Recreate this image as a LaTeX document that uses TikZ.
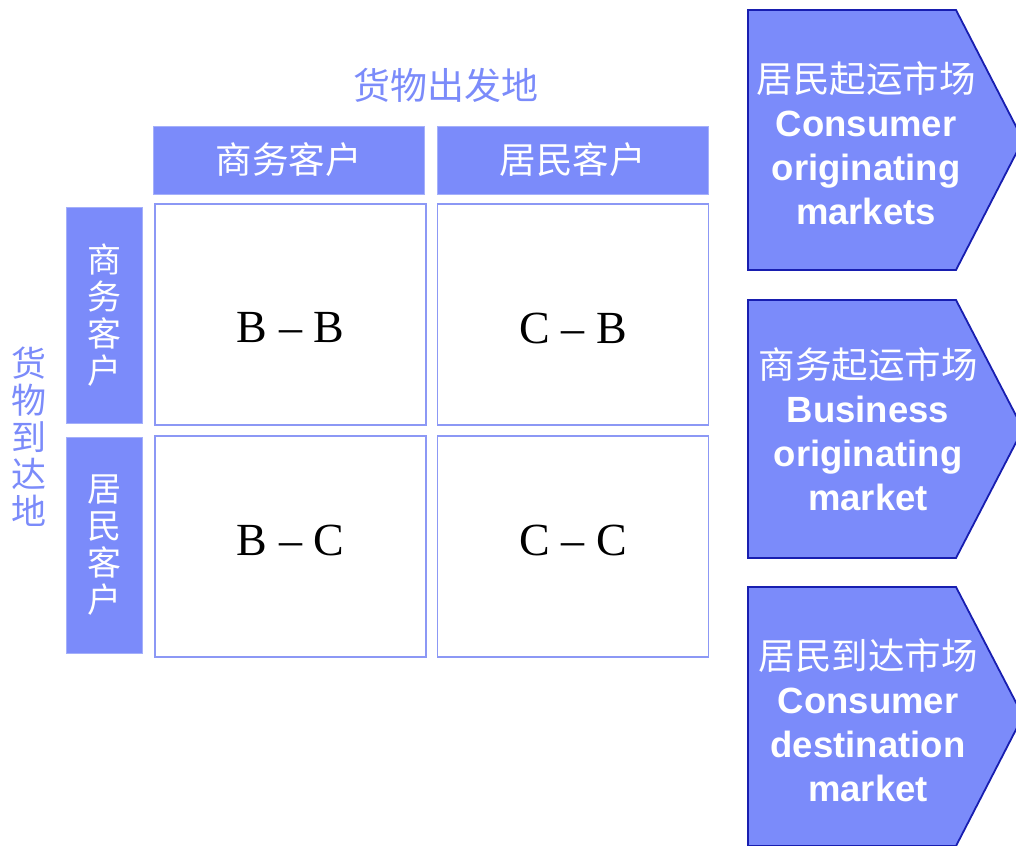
\documentclass[tikz,border=0pt]{standalone}
\usepackage{fontspec}
\setmainfont{Liberation Serif}
\newfontfamily\cjk{Noto Sans CJK SC}
\newfontfamily\arialb{Liberation Sans}[BoldFont={* Bold}]
\definecolor{mblue}{RGB}{123,139,250}
\definecolor{dblue}{RGB}{24,30,176}
\definecolor{lblue}{RGB}{140,152,245}
\definecolor{hblue}{RGB}{165,176,250}
\tikzset{
  hdr/.style={fill=mblue, draw=hblue, line width=0.8pt, inner sep=0pt, text=white,
    font=\cjk\fontsize{36.5}{37}\selectfont, align=center},
  rhdr/.style={hdr, font=\cjk\fontsize{34}{37}\selectfont},
  cellbox/.style={fill=white, draw=lblue, line width=1.6pt, inner sep=0pt,
    minimum width=271pt, minimum height=221pt},
  celltext/.style={inner sep=0pt, font=\fontsize{46}{50}\selectfont},
  ttl/.style={text=mblue, font=\cjk\fontsize{37}{37}\selectfont, align=center, inner sep=0pt},
  lttl/.style={ttl, font=\cjk\fontsize{35}{37}\selectfont},
  arrowbox/.style={fill=mblue, draw=dblue, line width=1.8pt, line join=miter},
  arrowtext/.style={text=white, align=center, inner sep=0pt,
    font=\arialb\bfseries\fontsize{36.5}{44}\selectfont},
}
\begin{document}
\begin{tikzpicture}[x=1pt,y=-1pt]
\useasboundingbox (0,0) rectangle (1016,845);
\clip (0,0) rectangle (1016,845);
% title
\node[ttl] (title) at (446,85) {货物出发地};
\node[lttl] (leftlabel) at (29,437) {货\\物\\到\\达\\地};
% column headers
\node[hdr, minimum width=271pt, minimum height=68pt] (ch1) at (288.5,160) {商务客户};
\node[hdr, minimum width=271pt, minimum height=68pt] (ch2) at (572.5,160) {居民客户};
% row headers
\node[rhdr, minimum width=76pt, minimum height=216pt] (rh1) at (104,315) {商\\务\\客\\户};
\node[rhdr, minimum width=76pt, minimum height=216pt] (rh2) at (104,545) {居\\民\\客\\户};
% cells
\node[cellbox] (bb) at (290.5,314.5) {};
\node[cellbox] (cb) at (573,314.5) {};
\node[cellbox] (bc) at (290.5,546.5) {};
\node[cellbox] (cc) at (573,546.5) {};
\node[celltext] (tbb) at (290.5,328) {B -- B};
\node[celltext] (tcb) at (573,328) {C -- B};
\node[celltext] (tbc) at (290.5,540) {B -- C};
\node[celltext] (tcc) at (573,540) {C -- C};
% arrows
\path[arrowbox] (748,10) -- (956,10) -- (1023,140) -- (956,270) -- (748,270) -- cycle;
\node[arrowtext] (a1) at (866,143) {{\mdseries\cjk 居民起运市场}\\Consumer\\originating\\markets};
\path[arrowbox] (748,300) -- (956,300) -- (1023,429) -- (956,558) -- (748,558) -- cycle;
\node[arrowtext] (a2) at (868,429) {{\mdseries\cjk 商务起运市场}\\Business\\originating\\market};
\path[arrowbox] (748,587) -- (956,587) -- (1023,716) -- (956,846) -- (748,846) -- cycle;
\node[arrowtext] (a3) at (868,720) {{\mdseries\cjk 居民到达市场}\\Consumer\\destination\\market};
\end{tikzpicture}
\end{document}
